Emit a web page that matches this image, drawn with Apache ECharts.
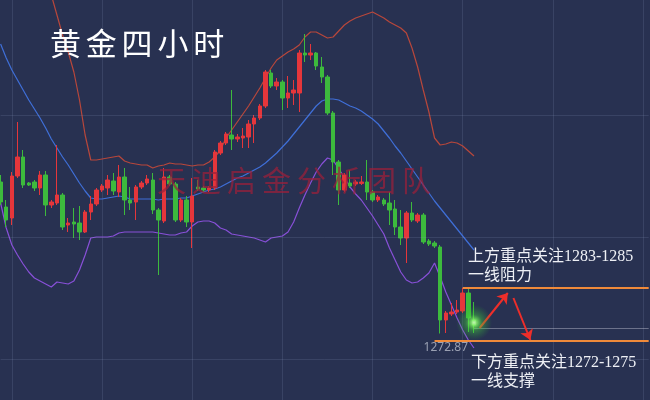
<!DOCTYPE html>
<html><head><meta charset="utf-8">
<script src="https://cdn.jsdelivr.net/npm/echarts@6/dist/echarts.min.js"></script>
<style>html,body{margin:0;padding:0;background:#283151}#c{width:650px;height:400px}</style>
</head><body><div id="c"></div>
<script>
// [open, close, low, high]
const ohlc = [
[1310.75,1305.75,1305.0,1312.5],[1304.5,1301.25,1299.5,1306.25],[1301.75,1312.25,1300.0,1313.25],[1312.25,1317.0,1311.75,1325.75],
[1317.0,1310.0,1309.25,1318.75],[1310.5,1310.0,1309.75,1310.75],[1310.75,1309.25,1308.5,1311.25],[1309.25,1312.5,1307.5,1313.5],
[1312.5,1305.0,1302.25,1313.5],[1305.0,1305.75,1304.25,1306.25],[1305.5,1307.5,1305.0,1320.0],[1307.5,1299.5,1298.75,1308.0],
[1300.0,1300.5,1298.25,1301.75],[1300.75,1300.25,1296.75,1304.25],[1300.5,1298.25,1296.25,1304.75],[1298.25,1303.25,1298.0,1303.75],
[1303.25,1305.25,1301.25,1307.25],[1305.25,1308.75,1304.75,1309.25],[1308.75,1309.75,1308.25,1310.25],[1309.25,1311.25,1307.5,1312.5],
[1311.0,1308.5,1307.5,1313.0],[1308.25,1312.0,1307.0,1315.0],[1312.0,1306.25,1302.5,1314.25],[1306.25,1305.5,1303.75,1309.5],
[1305.75,1309.5,1301.25,1310.0],[1309.5,1310.5,1309.0,1311.0],[1310.5,1311.5,1310.0,1312.5],[1311.25,1303.75,1302.75,1313.0],
[1303.75,1301.25,1287.5,1304.25],[1301.0,1312.0,1300.5,1314.25],[1312.0,1310.25,1309.75,1312.5],[1310.25,1301.25,1300.75,1310.75],
[1301.25,1306.25,1300.75,1306.75],[1306.25,1300.75,1299.5,1307.25],[1300.75,1307.25,1294.25,1311.75],[1309.5,1309.0,1308.5,1311.25],
[1309.25,1308.75,1308.25,1309.75],[1308.75,1309.25,1308.25,1309.75],[1309.25,1318.25,1308.75,1318.75],[1318.0,1320.5,1317.5,1321.0],
[1320.5,1322.75,1320.0,1323.25],[1322.5,1321.5,1318.75,1333.75],[1321.5,1322.0,1320.75,1322.75],[1321.75,1322.25,1319.25,1324.25],
[1322.0,1325.25,1319.25,1326.25],[1325.25,1326.75,1320.5,1327.5],[1326.75,1329.75,1326.25,1330.25],[1329.75,1338.25,1329.25,1338.75],
[1338.0,1334.75,1334.25,1338.75],[1334.75,1335.75,1333.75,1336.75],[1335.75,1331.75,1328.75,1336.25],[1331.75,1333.0,1329.25,1337.25],
[1333.0,1333.75,1330.0,1336.25],[1333.0,1343.0,1328.25,1343.75],[1343.0,1342.5,1340.75,1347.75],[1342.5,1343.0,1341.25,1345.25],
[1343.0,1339.75,1338.75,1343.25],[1339.5,1337.0,1335.5,1342.0],[1337.0,1328.0,1327.5,1337.5],[1328.0,1315.75,1312.5,1328.5],
[1315.75,1308.75,1305.0,1316.25],[1308.75,1312.5,1308.25,1313.0],[1310.5,1309.75,1309.25,1313.75],[1310.25,1310.75,1309.75,1311.25],
[1310.4,1310.75,1310.0,1312.25],[1310.75,1308.25,1306.25,1316.25],[1308.25,1306.25,1305.75,1308.75],[1306.25,1307.0,1305.75,1307.5],
[1306.25,1305.25,1304.75,1306.75],[1305.5,1303.75,1300.0,1308.25],[1304.0,1299.5,1297.5,1306.25],[1299.5,1296.75,1295.0,1303.75],
[1296.75,1303.0,1290.5,1303.5],[1303.0,1301.25,1300.75,1305.75],[1301.0,1302.5,1300.5,1303.0],[1302.5,1295.75,1295.25,1303.0],
[1296.0,1295.25,1294.75,1296.5],[1295.5,1294.75,1294.25,1296.0],[1294.5,1276.25,1272.87,1295.0],[1276.25,1278.0,1273.0,1278.5],
[1277.75,1278.25,1277.25,1280.5],[1278.25,1278.75,1277.75,1281.25],[1278.5,1283.0,1278.0,1284.25],[1283.0,1276.75,1273.25,1284.25],
[1276.25,1275.0,1273.0,1280.75]
];
const upperBand = [null,null,null,null,null,null,null,null,null,1357.5,
1352.5,1347.5,1343.25,1338.25,1331.25,1322.5,1316.25,1316.25,1316.5,1316.75,
1317.0,1317.25,1316.0,1315.5,1315.25,1315.0,1315.0,1314.25,1314.75,1315.0,
1315.5,1315.25,1315.25,1315.0,1314.75,1315.0,1315.0,1315.75,1317.0,1318.75,
1321.75,1323.75,1325.75,1327.75,1329.75,1332.0,1334.25,1336.75,1339.25,1341.25,
1342.25,1343.25,1344.0,1345.0,1347.0,1348.25,1348.25,1347.5,1346.75,1347.0,
1348.5,1350.0,1351.0,1351.75,1352.25,1352.75,1353.25,1352.5,1351.75,1350.75,
1350.0,1349.25,1348.0,1344.25,1339.5,1333.75,1328.25,1321.75,1320.0,1320.25,
1320.75,1320.5,1319.75,1318.5,1317.25];
const midBand = [1345.25,1341.75,1338.75,1336.25,1333.75,1331.25,1329.0,1326.75,1324.25,1321.5,
1319.25,1317.0,1315.0,1312.75,1310.5,1308.5,1306.75,1306.5,1306.5,1306.75,
1307.0,1307.25,1307.0,1306.5,1306.5,1306.5,1306.5,1306.5,1306.25,1306.5,
1306.5,1306.5,1306.75,1306.75,1307.25,1307.75,1308.25,1308.75,1309.0,1309.5,
1310.25,1311.0,1311.75,1312.25,1313.0,1313.75,1314.5,1315.5,1316.75,1318.0,
1319.5,1321.0,1322.75,1324.5,1326.25,1328.0,1329.75,1331.0,1331.5,1331.5,
1331.25,1330.5,1329.75,1329.25,1328.5,1327.5,1326.5,1325.25,1323.5,1321.75,
1319.75,1318.0,1316.0,1314.0,1312.0,1310.0,1308.0,1306.0,1304.25,1302.5,
1300.75,1299.0,1297.25,1295.5,1293.75];
const lowerBand = [1305.5,1299.25,1295.0,1292.5,1290.25,1288.25,1286.75,1286.0,1285.25,1284.5,
1285.75,1285.5,1285.25,1286.0,1288.75,1292.5,1296.75,1297.0,1297.0,1297.0,
1297.25,1298.0,1298.25,1298.25,1298.25,1298.25,1298.25,1298.25,1298.0,1297.75,
1297.5,1297.5,1298.0,1298.25,1299.75,1300.75,1301.0,1301.0,1300.5,1299.25,
1298.75,1297.75,1297.5,1297.25,1297.0,1296.75,1296.25,1295.75,1296.75,1297.0,
1297.25,1298.25,1300.75,1304.25,1307.5,1310.5,1313.25,1315.25,1316.75,1316.25,
1314.0,1312.0,1309.5,1307.75,1306.25,1304.25,1302.25,1300.0,1297.75,1294.25,
1291.25,1288.25,1286.25,1285.5,1285.75,1286.75,1288.0,1290.5,1287.0,1283.25,
1280.0,1276.75,1273.75,1271.25,1269.25];
const emptySlots = 31;
const gridPrices = [1327.5, 1297, 1266.5];
const resistanceLevel = 1284.25, supportLevel = 1271.0, lastPriceLine = 1274.25;
const lowPrice = 1272.87;
const title = '黄金四小时';
const watermark = '天迪启金分析团队';
const notes = [
  {text:'上方重点关注1283-1285', x:468, y:257},
  {text:'一线阻力', x:468, y:276},
  {text:'下方重点关注1272-1275', x:471, y:363},
  {text:'一线支撑', x:471, y:382}
];

const n = ohlc.length;
const categories = ohlc.map((d,i)=>String(i)).concat(Array.from({length:emptySlots},(_,i)=>String(n+i)));
const last = categories.length - 1;
const lastIdx = n - 1;

const chart = echarts.init(document.getElementById('c'), null, {renderer:'canvas'});
const gridColor = 'rgba(150,160,200,0.16)';
const red = '#e5363b', green = '#3dba3d';
const textFont = '16px "Liberation Serif", "Noto Sans CJK SC"';

const graphics = [];
title.split('').forEach((ch,i)=>graphics.push({type:'text', x:50+i*35.8, y:43, z:50,
  style:{text:ch, fill:'#ffffff', font:'31px "Noto Sans CJK SC"', verticalAlign:'middle'}}));
watermark.split('').forEach((ch,i)=>graphics.push({type:'text', x:157+i*35, y:181, z:60,
  style:{text:ch, fill:'rgba(155,32,58,0.72)', font:'29px "Noto Sans CJK SC"', verticalAlign:'middle'}}));
notes.forEach(t=>graphics.push({type:'text', x:t.x, y:t.y, z:50,
  style:{text:t.text, fill:'#eef0f5', font:textFont, verticalAlign:'middle'}}));

chart.setOption({
  animation:false,
  backgroundColor:'#283151',
  grid:{left:0.6, right:1.3, top:0, bottom:0},
  xAxis:{type:'category', data:categories, boundaryGap:false,
    axisLine:{show:false}, axisTick:{show:false}, axisLabel:{show:false},
    splitLine:{show:true, interval:(i)=> i % 16 === 2, lineStyle:{color:gridColor, width:1}}},
  yAxis:{type:'value', min:1256.25, max:1356.25, axisLine:{show:false}, axisTick:{show:false},
    axisLabel:{show:false}, splitLine:{show:false}},
  graphic:graphics,
  series:[
    {type:'line', data:[], z:0, silent:true,
      markLine:{silent:true, symbol:['none','none'], label:{show:false},
        lineStyle:{color:gridColor, type:'solid', width:1},
        data:gridPrices.map(v=>({yAxis:v}))}},
    {type:'line', data:upperBand, symbol:'none', z:3, lineStyle:{color:'#b8473b', width:1.2}},
    {type:'line', data:midBand, symbol:'none', z:3, lineStyle:{color:'#3f6fd8', width:1.2}},
    {type:'line', data:lowerBand, symbol:'none', z:3, lineStyle:{color:'#8850d8', width:1.2}},
    {type:'candlestick', data:ohlc, barWidth:4, z:4,
      itemStyle:{color:red, color0:green, borderColor:red, borderColor0:green, borderWidth:1},
      markPoint:{symbol:'circle', symbolSize:0, silent:true,
        label:{show:true, position:'bottom', distance:8, color:'#9aa0b2', fontSize:12, fontFamily:'"Noto Sans"', formatter:String(lowPrice)},
        data:[{coord:[String(78+1), lowPrice]}]},
      markLine:{silent:true, symbol:['none','none'], label:{show:false}, animation:false,
        data:[
          [{coord:[String(82), resistanceLevel], lineStyle:{color:'#f08a3a', width:2, type:'solid'}}, {coord:[String(last), resistanceLevel]}],
          [{coord:[String(77), supportLevel], lineStyle:{color:'#f08a3a', width:2, type:'solid'}}, {coord:[String(last), supportLevel]}],
          [{coord:[String(lastIdx), lastPriceLine], lineStyle:{color:'rgba(190,195,210,0.45)', width:1, type:'solid'}}, {coord:[String(last), lastPriceLine]}],
          [{coord:[String(lastIdx+1), 1274.25], symbol:'none', lineStyle:{color:'#ee2e2a', width:2, type:'solid'}}, {coord:[String(lastIdx+6), 1283.0], symbol:'arrow', symbolSize:10}],
          [{coord:[String(lastIdx+7), 1281.75], symbol:'none', lineStyle:{color:'#ee2e2a', width:2, type:'solid'}}, {coord:[String(lastIdx+10), 1271.25], symbol:'arrow', symbolSize:10}]
        ]}},
    {type:'scatter', z:6, silent:true, data:[[String(lastIdx), 1275.6]], symbolSize:36,
      itemStyle:{color:{type:'radial', x:0.5, y:0.5, r:0.5, colorStops:[
        {offset:0, color:'rgba(230,255,210,1)'},{offset:0.18, color:'rgba(130,250,100,1)'},
        {offset:0.45, color:'rgba(70,215,60,0.5)'},{offset:1, color:'rgba(40,180,40,0)'}]}}}
  ]
});
</script></body></html>
